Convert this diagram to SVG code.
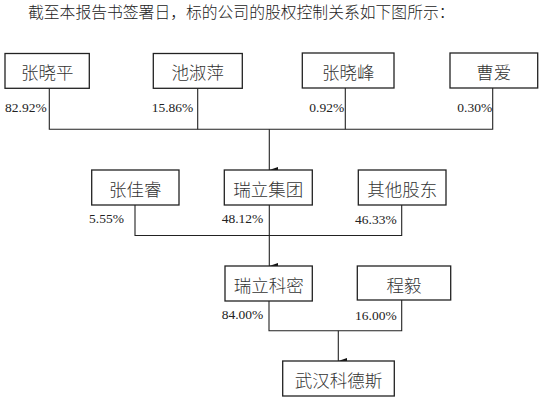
<svg xmlns="http://www.w3.org/2000/svg" width="541" height="401" viewBox="0 0 541 401">
<defs>
<marker id="arr" viewBox="0 0 6 9" refX="3" refY="9" markerWidth="6" markerHeight="9" markerUnits="userSpaceOnUse" orient="auto-start-reverse">
<path d="M0,0 L6,0 L3,9 Z" fill="#111"/>
</marker>
<style>
.box rect{fill:#fff;stroke:#222;stroke-width:1.3}
.box text{font-family:"Noto Sans CJK SC","Noto Sans CJK JP",sans-serif;font-size:17.5px;font-weight:300;fill:#333;text-anchor:middle;dominant-baseline:central}
.pct{font-family:"Liberation Serif","Times New Roman",serif;font-size:13.5px;fill:#222}
.ln{fill:none;stroke:#222;stroke-width:1.1}
.title{font-family:"Noto Sans CJK SC","Noto Sans CJK JP",sans-serif;font-size:15.8px;font-weight:300;fill:#222;dominant-baseline:central}
</style>
</defs>
<rect width="541" height="401" fill="#fff"/>
<text class="title" x="28" y="11">截至本报告书签署日，标的公司的股权控制关系如下图所示：</text>

<g id="connectors">
<path class="ln" d="M49.3,88 V129.3 H492.7 V88"/>
<path class="ln" d="M197.7,88 V129.3"/>
<path class="ln" d="M345.3,88 V129.3"/>
<path class="ln" d="M269.3,129.3 V170" marker-end="url(#arr)"/>
<path class="ln" d="M135,205 V235.5 H401.7 V205"/>
<path class="ln" d="M269.3,205 V266" marker-end="url(#arr)"/>
<path class="ln" d="M269,301 V330.7 H401.7 V300"/>
<path class="ln" d="M338.3,330.7 V361" marker-end="url(#arr)"/>
</g>

<g id="zhangxiaoping" class="box"><rect x="5" y="53.5" width="84.3" height="34.8"/><text x="47.2" y="71">张晓平</text></g>
<g id="chishuping" class="box"><rect x="153.3" y="53.5" width="89" height="34.8"/><text x="197.8" y="71">池淑萍</text></g>
<g id="zhangxiaofeng" class="box"><rect x="302.3" y="53" width="91.7" height="35"/><text x="348.2" y="71">张晓峰</text></g>
<g id="caoai" class="box"><rect x="450" y="53" width="87.7" height="35"/><text x="493.8" y="71">曹爱</text></g>

<g id="zhangjiarui" class="box"><rect x="91.7" y="170" width="87.3" height="35"/><text x="135.3" y="188">张佳睿</text></g>
<g id="ruiligroup" class="box"><rect x="224.3" y="170" width="88" height="35"/><text x="268.3" y="188">瑞立集团</text></g>
<g id="others" class="box"><rect x="358.3" y="170" width="87.7" height="35"/><text x="402.2" y="188">其他股东</text></g>

<g id="ruilikemi" class="box"><rect x="225" y="266" width="87.3" height="35"/><text x="268.7" y="284">瑞立科密</text></g>
<g id="chengyi" class="box"><rect x="357.3" y="266" width="93.4" height="34"/><text x="404" y="284">程毅</text></g>

<g id="wuhankedesi" class="box"><rect x="282.7" y="361" width="111.6" height="35"/><text x="338.5" y="379">武汉科德斯</text></g>

<g id="pcts">
<text class="pct" x="5" y="112">82.92%</text>
<text class="pct" x="151.7" y="112">15.86%</text>
<text class="pct" x="309.3" y="112">0.92%</text>
<text class="pct" x="457.3" y="112">0.30%</text>
<text class="pct" x="89" y="223.3">5.55%</text>
<text class="pct" x="221.7" y="223.3">48.12%</text>
<text class="pct" x="355" y="223.8">46.33%</text>
<text class="pct" x="221.7" y="319">84.00%</text>
<text class="pct" x="355" y="320">16.00%</text>
</g>
</svg>
